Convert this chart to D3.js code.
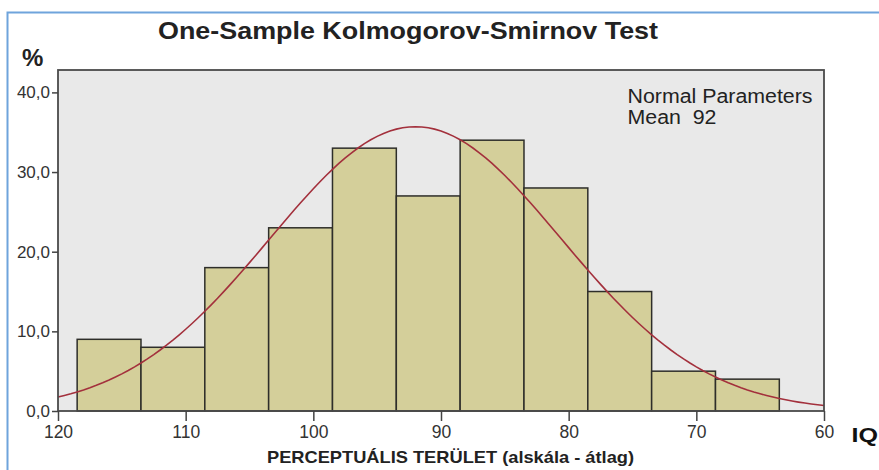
<!DOCTYPE html>
<html>
<head>
<meta charset="utf-8">
<script src="https://cdn.jsdelivr.net/npm/d3@7"></script>
<style>
  body { margin: 0; background: #fff; }
  text { font-family: "Liberation Sans", Arial, sans-serif; }
</style>
</head>
<body>
<script>
// bin edges (IQ) and bar heights (%)
var binEdges = [118.5, 113.5, 108.5, 103.5, 98.5, 93.5, 88.5, 83.5, 78.5, 73.5, 68.5, 63.5];
var percents = [9, 8, 18, 23, 33, 27, 34, 28, 15, 5, 4];
var xTicks = [120, 110, 100, 90, 80, 70, 60];
var yTicks = [0, 10, 20, 30, 40];
var normalMean = 92;
var normalSd = 11.4;

var W = 879, H = 470;
var margin = {top: 70, right: 55, bottom: 59, left: 58};
var width = W - margin.left - margin.right;
var height = H - margin.top - margin.bottom;

var svg = d3.select("body").append("svg")
    .attr("width", W)
    .attr("height", H);

// blue frame of the picture
svg.append("path")
    .attr("d", "M7.5," + H + "V12.5H" + W)
    .attr("fill", "none")
    .attr("stroke", "#6fa4dc")
    .attr("stroke-width", 2);

var g = svg.append("g")
    .attr("transform", "translate(" + margin.left + "," + margin.top + ")");

var x = d3.scaleLinear().domain([120, 60]).range([0, width]);
var y = d3.scaleLinear().domain([0, 40]).range([height, height - 318.6]);

g.append("rect")
    .attr("width", width)
    .attr("height", height)
    .attr("fill", "#e9e9e9");

var bins = percents.map(function(p, i) {
    return {x0: binEdges[i], x1: binEdges[i + 1], v: p};
});

g.selectAll("rect.bar").data(bins).enter()
    .append("rect")
    .attr("class", "bar")
    .attr("x", function(d) { return x(d.x0); })
    .attr("y", function(d) { return y(d.v); })
    .attr("width", function(d) { return x(d.x1) - x(d.x0); })
    .attr("height", function(d) { return height - y(d.v); })
    .attr("fill", "#d4cf9a")
    .attr("stroke", "#2e2e2a")
    .attr("stroke-width", 1.5);

// fitted normal curve (scaled to the histogram area)
var total = d3.sum(percents);
var binW = binEdges[0] - binEdges[1];
var curvePts = d3.range(120, 59.9, -0.5).map(function(v) {
    var z = (v - normalMean) / normalSd;
    return [v, total * binW / (normalSd * Math.sqrt(2 * Math.PI)) * Math.exp(-0.5 * z * z)];
});
g.append("path")
    .datum(curvePts)
    .attr("fill", "none")
    .attr("stroke", "#a3303c")
    .attr("stroke-width", 1.6)
    .attr("d", d3.line().x(function(d) { return x(d[0]); }).y(function(d) { return y(d[1]); }));

// plot frame
g.append("rect")
    .attr("width", width)
    .attr("height", height)
    .attr("fill", "none")
    .attr("stroke", "#4a4a4a")
    .attr("stroke-width", 1.8);

var xAxis = g.append("g")
    .attr("transform", "translate(0," + height + ")")
    .call(d3.axisBottom(x).tickValues(xTicks).tickSize(10).tickSizeOuter(0).tickPadding(5));
xAxis.select(".domain").remove();
xAxis.selectAll("line").attr("stroke", "#444").attr("stroke-width", 1.5);
xAxis.selectAll("text").attr("font-size", "17.5px").attr("fill", "#333")
    .style("font-family", "Liberation Sans, Arial, sans-serif");

var yAxis = g.append("g")
    .call(d3.axisLeft(y).tickValues(yTicks).tickSize(6).tickPadding(2)
        .tickFormat(function(d) { return d3.format(".1f")(d).replace(".", ","); }));
yAxis.select(".domain").remove();
yAxis.selectAll("line").attr("stroke", "#444").attr("stroke-width", 1.5);
yAxis.selectAll("text").attr("font-size", "17px").attr("fill", "#333")
    .style("font-family", "Liberation Sans, Arial, sans-serif");

// legend
g.append("text")
    .attr("x", 569.5).attr("y", 32.5)
    .attr("font-size", "19.5px").attr("fill", "#222")
    .attr("textLength", 185).attr("lengthAdjust", "spacingAndGlyphs")
    .text("Normal Parameters");
g.append("text")
    .attr("x", 569.5).attr("y", 54)
    .attr("font-size", "19.5px").attr("fill", "#222")
    .attr("xml:space", "preserve")
    .attr("textLength", 89).attr("lengthAdjust", "spacingAndGlyphs")
    .text("Mean  92");

// titles
svg.append("text")
    .attr("x", 158).attr("y", 39)
    .attr("font-size", "24.5px").attr("font-weight", "bold").attr("fill", "#222")
    .attr("textLength", 500).attr("lengthAdjust", "spacingAndGlyphs")
    .text("One-Sample Kolmogorov-Smirnov Test");
svg.append("text")
    .attr("x", 22).attr("y", 66)
    .attr("font-size", "24px").attr("font-weight", "bold").attr("fill", "#222")
    .text("%");
svg.append("text")
    .attr("x", 267).attr("y", 463)
    .attr("font-size", "16.3px").attr("font-weight", "bold").attr("fill", "#222")
    .attr("textLength", 367).attr("lengthAdjust", "spacingAndGlyphs")
    .text("PERCEPTUÁLIS TERÜLET (alskála - átlag)");
svg.append("text")
    .attr("x", 851.5).attr("y", 442)
    .attr("font-size", "19.5px").attr("font-weight", "bold").attr("fill", "#111")
    .attr("textLength", 26.5).attr("lengthAdjust", "spacingAndGlyphs")
    .text("IQ");
</script>
</body>
</html>
